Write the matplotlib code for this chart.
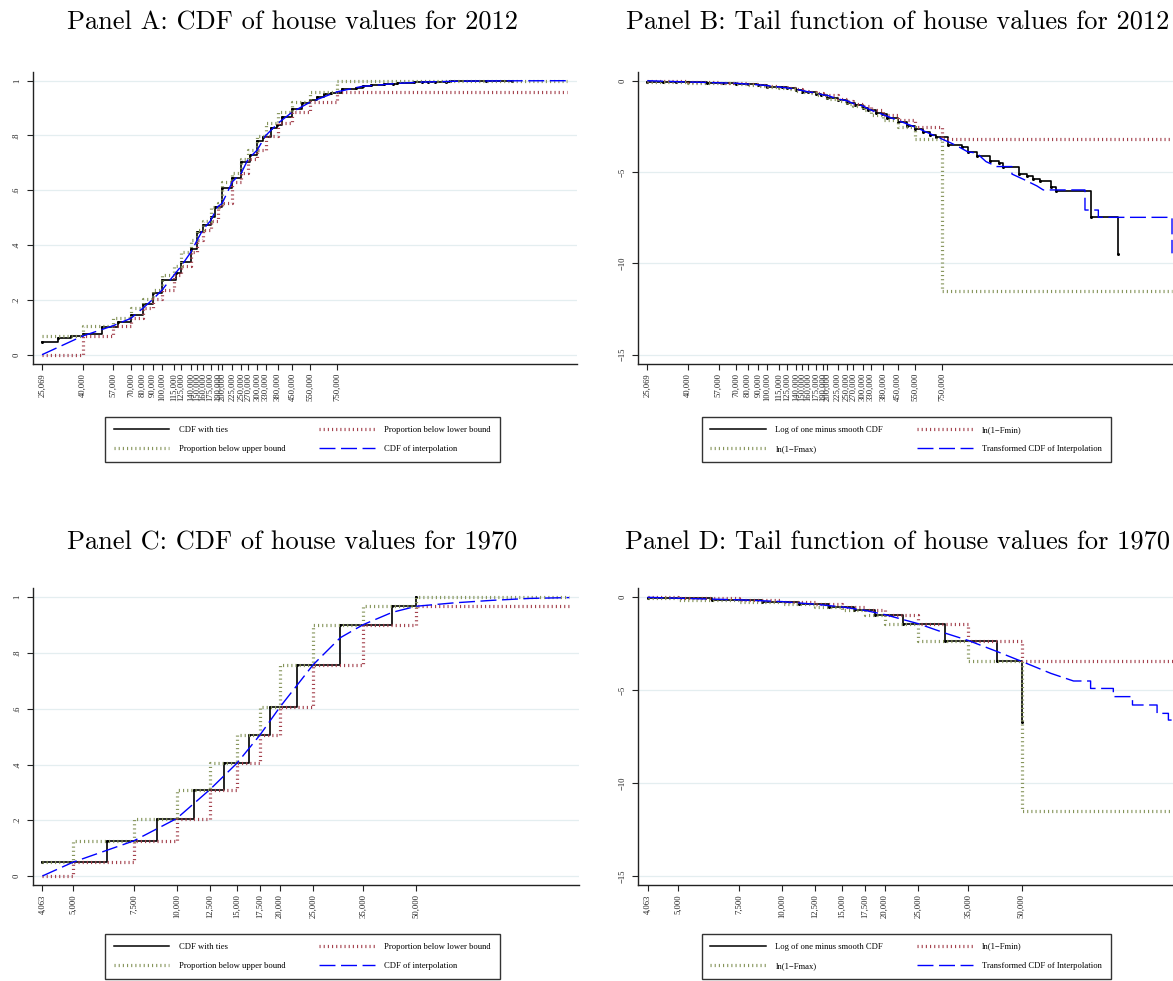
import matplotlib
matplotlib.use('Agg')
import matplotlib.pyplot as plt
from matplotlib.ticker import FixedLocator, NullLocator, FixedFormatter
from matplotlib.lines import Line2D

plt.rcParams['lines.scale_dashes'] = False

W, H = 1173, 981

# ---------------- 2012 (panels A, B) ----------------
bounds_12 = [25069, 40000, 57000, 70000, 80000, 90000, 100000, 115000, 125000,
             140000, 150000, 160000, 175000, 190000, 200000, 225000, 250000,
             270000, 300000, 330000, 380000, 450000, 550000, 750000]
end_12 = 10640000
lower_12 = [0, .068, .106, .133, .169, .202, .236, .291, .324, .376, .418, .455,
            .489, .540, .552, .631, .664, .714, .747, .799, .844, .886, .921, .959]
upper_12 = [.068, .106, .133, .169, .202, .236, .291, .324, .376, .418, .455, .489,
            .540, .552, .631, .664, .714, .747, .799, .844, .886, .921, .959, 1.0]

ties_x_12 = [25069, 30000, 35000, 40000, 50000, 60000, 70000, 80000, 90000, 100000,
             118000, 125000, 140000, 150000, 160000, 175000, 185000, 200000, 225000,
             250000, 275000, 300000, 320000, 350000, 375000, 400000, 450000, 500000,
             550000, 600000, 650000, 700000, 800000, 940000, 1016000, 1120000,
             1300000, 1440000, 1510000, 1830000, 2000000, 2150000, 2320000, 2630000,
             2780000, 4180000, 5690000]
ties_y_12 = [.047, .060, .068, .077, .102, .119, .145, .184, .224, .273,
             .297, .338, .387, .448, .472, .504, .538, .607, .646,
             .704, .730, .780, .795, .826, .840, .869, .897, .917,
             .930, .940, .950, .955, .970, .974, .980, .984,
             .9877, .9891, .9909, .994, .9945, .9954, .9959, .997,
             .9976, .99944, .99992]

interp_x_12 = bounds_12 + [1000000, 1500000, 2000000, 3000000, 5000000, 10640000]
interp_y_12 = [0, .068, .106, .133, .169, .202, .236, .291, .324, .376, .418, .455,
               .489, .540, .552, .631, .664, .714, .747, .799, .844, .886, .921, .959,
               .979, .990, .995, .998, .9995, 1.0]

# tail function values (panel B)
tail_lower_12 = [0, -0.0704, -0.112, -0.1427, -0.185, -0.2256, -0.269, -0.344, -0.3916,
                 -0.4716, -0.5413, -0.607, -0.6714, -0.7765, -0.803, -0.997, -1.091,
                 -1.2518, -1.3744, -1.6045, -1.858, -2.1716, -2.538, -3.194]
tail_upper_12 = [-0.0704, -0.112, -0.1427, -0.185, -0.2256, -0.269, -0.344, -0.3916,
                 -0.4716, -0.5413, -0.607, -0.6714, -0.7765, -0.803, -0.997, -1.091,
                 -1.2518, -1.3744, -1.6045, -1.858, -2.1716, -2.538, -3.194, -11.5]
tail_ties_12 = [-0.0481, -0.0619, -0.0704, -0.0801, -0.1076, -0.1267, -0.1567, -0.2033,
                -0.2536, -0.3188, -0.3524, -0.4125, -0.4894, -0.5942, -0.6387, -0.7012,
                -0.7722, -0.9339, -1.0385, -1.2174, -1.3093, -1.5141, -1.5847, -1.7487,
                -1.8326, -2.0326, -2.273, -2.4889, -2.6593, -2.8134, -2.9957, -3.1011,
                -3.5066, -3.65, -3.92, -4.12, -4.40, -4.52, -4.70, -5.11, -5.21, -5.38,
                -5.49, -5.80, -6.02, -7.48, -9.48]
tail_interp_x_12 = bounds_12 + [839000, 906000, 1004000, 1120000, 1246000, 1410000,
                                1680000, 1680000, 1920000, 2240000, 2410000, 3900000,
                                3900000, 4550000, 4550000, 10640000, 10640000]
tail_interp_y_12 = tail_lower_12 + [-3.43, -3.61, -3.88, -3.97, -4.43, -4.70,
                                    -4.70, -5.11, -5.40, -5.76, -5.98, -5.98,
                                    -7.08, -7.08, -7.48, -7.48, -9.45]

# ---------------- 1970 (panels C, D) ----------------
bounds_70 = [4063, 5000, 7500, 10000, 12500, 15000, 17500, 20000, 25000, 35000, 50000]
end_70 = 139400
lower_70 = [0, .050, .126, .206, .310, .405, .506, .606, .758, .902, .968]
upper_70 = [.050, .126, .206, .310, .405, .506, .606, .758, .902, .968, 1.0]
ties_x_70 = [4063, 6250, 8750, 11250, 13750, 16250, 18750, 22500, 30000, 42500, 50000]
ties_y_70 = [.050, .126, .206, .310, .405, .506, .606, .758, .902, .968, 1.0]
interp_x_70 = [4063, 5000, 7500, 10000, 12500, 15000, 17500, 20000, 25000, 30000,
               35000, 42500, 50000, 64300, 82900, 106800, 139400]
interp_y_70 = [0, .050, .126, .206, .310, .405, .506, .606, .758, .855,
               .902, .946, .968, .980, .989, .996, .999]

tail_lower_70 = [0, -0.0513, -0.1347, -0.2307, -0.3711, -0.5192, -0.7052, -0.9314,
                 -1.4188, -2.3228, -3.442]
tail_upper_70 = [-0.0513, -0.1347, -0.2307, -0.3711, -0.5192, -0.7052, -0.9314,
                 -1.4188, -2.3228, -3.442, -11.5]
tail_ties_70 = [-0.0513, -0.1347, -0.2307, -0.3711, -0.5192, -0.7052, -0.9314,
                -1.4188, -2.3228, -3.442, -6.69]
tail_interp_x_70 = [4063, 5000, 7500, 10000, 12500, 15000, 17500, 20000, 25000, 30000,
                    35000, 42500, 50000, 60900, 70900, 79500, 79500, 92600, 92600,
                    105300, 105300, 124200, 124200, 134000, 134000, 139400]
tail_interp_y_70 = [0, -0.0513, -0.1347, -0.2307, -0.3711, -0.5192, -0.7052, -0.9314,
                    -1.4188, -1.93, -2.3228, -2.92, -3.442, -4.09, -4.50, -4.50, -4.90,
                    -4.90, -5.34, -5.34, -5.79, -5.79, -6.24, -6.24, -6.60, -6.60]

# ---------------- style ----------------
C_BLACK = 'black'
C_RED = '#a3404c'
C_GREEN = '#85945a'
C_BLUE = '#0000ff'
DOT = (0, (0.8, 2.2))
DASH = (0, (11.5, 4))
TICKFONT = {'family': 'Liberation Serif', 'size': 6.2}

fig = plt.figure(figsize=(W / 100, H / 100), dpi=100)


def make_axes(l, r, t, b):
    return fig.add_axes([l / W, 1 - b / H, (r - l) / W, (b - t) / H])


def style_axes(ax, xlim, ylim, xticks, yticks, ylabels):
    ax.set_xscale('log')
    ax.set_xlim(*xlim)
    ax.set_ylim(*ylim)
    ax.xaxis.set_major_locator(FixedLocator(xticks))
    ax.xaxis.set_minor_locator(NullLocator())
    ax.xaxis.set_major_formatter(FixedFormatter(['{:,}'.format(v) for v in xticks]))
    ax.yaxis.set_major_locator(FixedLocator(yticks))
    ax.yaxis.set_major_formatter(FixedFormatter(ylabels))
    for s in ('top', 'right'):
        ax.spines[s].set_visible(False)
    for s in ('left', 'bottom'):
        ax.spines[s].set_linewidth(1.0)
        ax.spines[s].set_color('#222222')
    ax.grid(axis='y', color='#e4eef0', lw=0.9, zorder=0)
    ax.set_axisbelow(True)
    ax.tick_params(axis='x', direction='out', length=4, width=0.8, pad=2.4,
                   labelrotation=90, colors='#222222')
    ax.tick_params(axis='y', direction='out', length=4, width=0.8, pad=4.5,
                   labelrotation=90, colors='#222222')
    for lab in ax.get_xticklabels() + ax.get_yticklabels():
        lab.set_fontfamily(TICKFONT['family'])
        lab.set_fontsize(TICKFONT['size'])
    for lab in ax.get_yticklabels():
        lab.set_va('center')


def draw(ax, bounds, end, lower, upper, tx, ty, ix, iy):
    ax.plot(tx, ty, color=C_BLACK, lw=1.2, drawstyle='steps-post',
            marker='o', ms=2.2, mew=0, zorder=2)
    ax.plot(bounds + [end], lower + [lower[-1]], color=C_RED, lw=2.3,
            ls=DOT, drawstyle='steps-post', zorder=3)
    ax.plot(bounds + [end], upper + [upper[-1]], color=C_GREEN, lw=2.3,
            ls=DOT, drawstyle='steps-post', zorder=4)
    ax.plot(ix, iy, color=C_BLUE, lw=1.0, ls=DASH, zorder=5)


def legend(labels, left_px, top_px):
    handles = [Line2D([], [], color=C_BLACK, lw=1.1),
               Line2D([], [], color=C_GREEN, lw=2.3, ls=DOT),
               Line2D([], [], color=C_RED, lw=2.3, ls=DOT),
               Line2D([], [], color=C_BLUE, lw=1.0, ls=DASH)]
    leg = fig.legend(handles, labels, loc='upper left',
                     bbox_to_anchor=(left_px / W, 1 - top_px / H),
                     ncol=2, frameon=True, fancybox=False, edgecolor='black',
                     prop=TICKFONT, handlelength=6.45, handletextpad=1.1,
                     columnspacing=3.95, borderpad=1.0, labelspacing=1.32,
                     borderaxespad=0)
    leg.get_frame().set_linewidth(1.0)


cdf_ticks = [0, .2, .4, .6, .8, 1]
cdf_labels = ['0', '.2', '.4', '.6', '.8', '1']
tail_ticks = [0, -5, -10, -15]
tail_labels = ['0', '\u22125', '\u221210', '\u221215']

# Panel A
axA = make_axes(32.7, 577, 71.7, 364)
draw(axA, bounds_12, end_12, lower_12, upper_12, ties_x_12, ties_y_12,
     interp_x_12, interp_y_12)
style_axes(axA, (22519, 11.98e6), (-0.0339, 1.0328), bounds_12, cdf_ticks, cdf_labels)
legend(['CDF with ties', 'Proportion below upper bound',
        'Proportion below lower bound', 'CDF of interpolation'], 105, 417.3)

# Panel B
axB = make_axes(638, 1182.3, 71.7, 364)
draw(axB, bounds_12, end_12, tail_lower_12, tail_upper_12, ties_x_12, tail_ties_12,
     tail_interp_x_12, tail_interp_y_12)
style_axes(axB, (22519, 11.98e6), (-15.509, 0.493), bounds_12, tail_ticks, tail_labels)
legend(['Log of one minus smooth CDF', 'ln(1\u2212Fmax)',
        'ln(1\u2212Fmin)', 'Transformed CDF of Interpolation'], 701.8, 417.3)

# Panel C
axC = make_axes(32.9, 578.7, 588.3, 885.3)
draw(axC, bounds_70, end_70, lower_70, upper_70, ties_x_70, ties_y_70,
     interp_x_70, interp_y_70)
style_axes(axC, (3812, 148600), (-0.0334, 1.0323), bounds_70, cdf_ticks, cdf_labels)
legend(['CDF with ties', 'Proportion below upper bound',
        'Proportion below lower bound', 'CDF of interpolation'], 105, 934)

# Panel D
axD = make_axes(638, 1183.8, 588.3, 885.3)
draw(axD, bounds_70, end_70, tail_lower_70, tail_upper_70, ties_x_70, tail_ties_70,
     tail_interp_x_70, tail_interp_y_70)
style_axes(axD, (3812, 148600), (-15.484, 0.484), bounds_70, tail_ticks, tail_labels)
legend(['Log of one minus smooth CDF', 'ln(1\u2212Fmax)',
        'ln(1\u2212Fmin)', 'Transformed CDF of Interpolation'], 701.8, 934)

# titles
TITLEFONT = {'family': ['cmr10', 'DejaVu Serif'], 'size': 19}
fig.text(292.5 / W, 1 - 30 / H, 'Panel A: CDF of house values for 2012',
         ha='center', va='baseline', **TITLEFONT)
fig.text(897.5 / W, 1 - 30 / H, 'Panel B: Tail function of house values for 2012',
         ha='center', va='baseline', **TITLEFONT)
fig.text(292.5 / W, 1 - 549 / H, 'Panel C: CDF of house values for 1970',
         ha='center', va='baseline', **TITLEFONT)
fig.text(897.5 / W, 1 - 549 / H, 'Panel D: Tail function of house values for 1970',
         ha='center', va='baseline', **TITLEFONT)

fig.savefig('out.png', dpi=100)
